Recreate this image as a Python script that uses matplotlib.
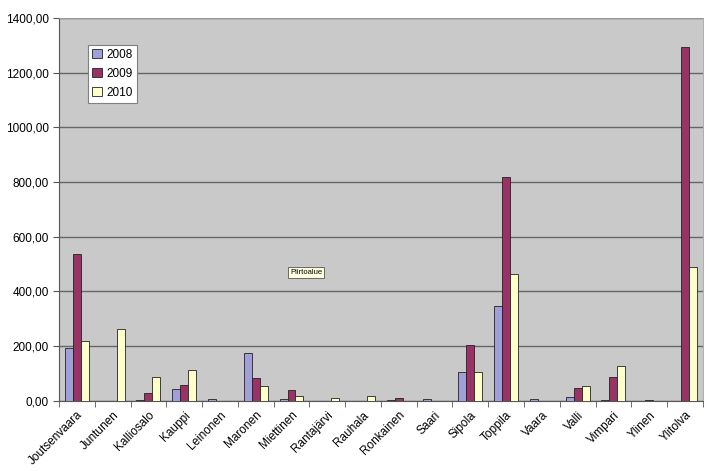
import numpy as np
import matplotlib.pyplot as plt
from matplotlib.ticker import FuncFormatter

plt.rcParams['font.family'] = ['Liberation Sans', 'DejaVu Sans']

# Names along the x axis
villages = ["Joutsenvaara", "Juntunen", "Kalliosalo", "Kauppi", "Leinonen",
            "Maronen", "Miettinen", "Rantajärvi", "Rauhala", "Ronkainen",
            "Saari", "Sipola", "Toppila", "Vaara", "Valli", "Vimpari",
            "Ylinen", "Ylitolva"]
years = ["2008", "2009", "2010"]

# values
v2008 = [194, 0, 2, 44, 5, 174, 5, 0, 0, 2, 5, 105, 348, 5, 15, 2, 0, 0]
v2009 = [535, 0, 29, 57, 0, 84, 39, 0, 0, 12, 0, 203, 817, 0, 48, 87, 4, 1292]
v2010 = [219, 261, 87, 111, 0, 53, 18, 12, 18, 0, 0, 105, 462, 0, 53, 126, 0, 488]

colors = ["#A0A0D8", "#993366", "#FFFFCC"]

fig = plt.figure(figsize=(7.15, 4.71), dpi=100)
ax = fig.add_axes([0.0825, 0.149, 0.9005, 0.813])
ax.set_facecolor("#C9C9C9")

x = np.arange(len(villages))
w = 1 / 4.5  # excel gap width 150%
for i, (vals, lab) in enumerate(zip([v2008, v2009, v2010], years)):
    ax.bar(x + (i - 1) * w, vals, width=w, color=colors[i], edgecolor="#222222",
           linewidth=0.6, label=lab, zorder=3)

ax.set_xlim(-0.5, len(villages) - 0.5)
ax.set_ylim(0, 1400)
ax.set_yticks(np.arange(0, 1401, 200))
ax.yaxis.set_major_formatter(FuncFormatter(lambda v, p: f"{v:.2f}".replace(".", ",")))
ax.yaxis.grid(True, color="#666666", linewidth=1.0, zorder=1)
ax.set_axisbelow(True)

# category labels between boundary ticks
ax.set_xticks(x)
ax.set_xticklabels(villages, rotation=45, ha="right", rotation_mode="anchor", fontsize=8.5)
ax.tick_params(axis="x", length=0, pad=6)
ax.set_xticks(np.arange(-0.5, len(villages)), minor=True)
ax.tick_params(axis="x", which="minor", length=4, color="#555555")
ax.tick_params(axis="y", length=4, color="#555555", labelsize=8.5)

for s in ["left", "bottom"]:
    ax.spines[s].set_color("#555555")
for s in ["top", "right"]:
    ax.spines[s].set_color("#A0A0A0")
    ax.spines[s].set_linewidth(0.6)

leg = ax.legend(loc="upper left", bbox_to_anchor=(0.045, 0.93), borderaxespad=0,
                fontsize=8.5, frameon=True, fancybox=False, edgecolor="#808080",
                handlelength=0.8, handleheight=0.8, handletextpad=0.4,
                borderpad=0.35, labelspacing=0.6, framealpha=1)
leg.get_frame().set_linewidth(0.8)

ax.text(0.384, 0.336, "Piirtoalue", transform=ax.transAxes, fontsize=5.5,
        ha="center", va="center",
        bbox=dict(boxstyle="square,pad=0.25", facecolor="#FFFFE1",
                  edgecolor="#555555", linewidth=0.6))

fig.savefig("out.png", dpi=100)
